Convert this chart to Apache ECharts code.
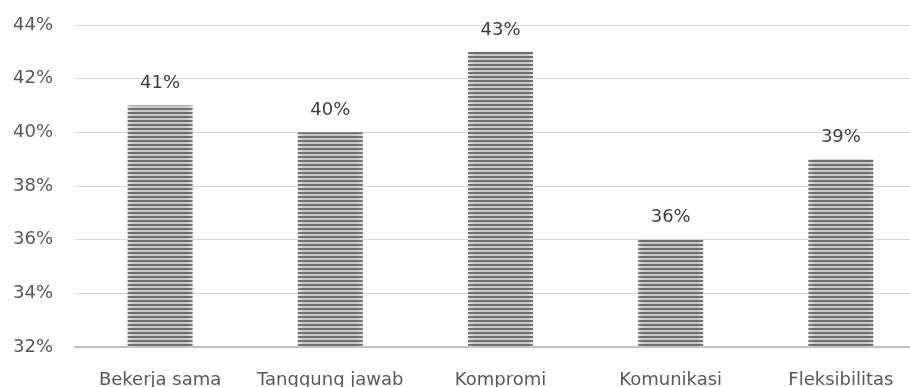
<!DOCTYPE html>
<html>
<head>
<meta charset="utf-8">
<script src="https://cdn.jsdelivr.net/npm/echarts@6/dist/echarts.min.js"></script>
<style>
  html, body { margin: 0; padding: 0; background: #ffffff; }
  #chart { width: 910px; height: 387px; }
</style>
</head>
<body>
<div id="chart"></div>
<script>
  // data
  var categories = ['Bekerja sama', 'Tanggung jawab', 'Kompromi', 'Komunikasi', 'Fleksibilitas'];
  var values = [41, 40, 43, 36, 39];

  var chart = echarts.init(document.getElementById('chart'));
  var font = 'DejaVu Sans';

  // bars: light grey base, lighter at the edges, with thin dark horizontal stripes on top
  var barFill = {
    type: 'linear', x: 0, y: 0, x2: 1, y2: 0,
    colorStops: [
      { offset: 0, color: '#e2e2e2' },
      { offset: 0.1, color: '#c8c8c8' },
      { offset: 0.9, color: '#c8c8c8' },
      { offset: 1, color: '#e2e2e2' }
    ]
  };

  chart.setOption({
    animation: false,
    grid: { left: 75, top: 25, bottom: 40, width: 851, outerBoundsMode: 'none', containLabel: false },
    xAxis: {
      type: 'category',
      data: categories,
      axisLine: { lineStyle: { color: '#bfbfbf', width: 2 } },
      axisTick: { show: false },
      axisLabel: { color: '#595959', fontFamily: font, fontSize: 18, margin: 24, interval: 0 }
    },
    yAxis: {
      type: 'value',
      min: 32,
      max: 44,
      interval: 2,
      axisLine: { show: false },
      axisTick: { show: false },
      axisLabel: { color: '#595959', fontFamily: font, fontSize: 18, margin: 22, formatter: '{value}%' },
      splitLine: { lineStyle: { color: '#d9d9d9', width: 1 } }
    },
    series: [{
      type: 'bar',
      data: values,
      barWidth: 65,
      itemStyle: {
        color: barFill,
        decal: {
          symbol: 'rect',
          symbolSize: 1,
          dashArrayX: [[1, 0]],
          dashArrayY: [2, 2],
          color: 'rgba(80,80,80,0.75)'
        }
      },
      label: {
        show: true,
        position: 'top',
        distance: 13,
        color: '#404040',
        fontFamily: font,
        fontSize: 18,
        formatter: '{c}%'
      }
    }]
  });
</script>
</body>
</html>
